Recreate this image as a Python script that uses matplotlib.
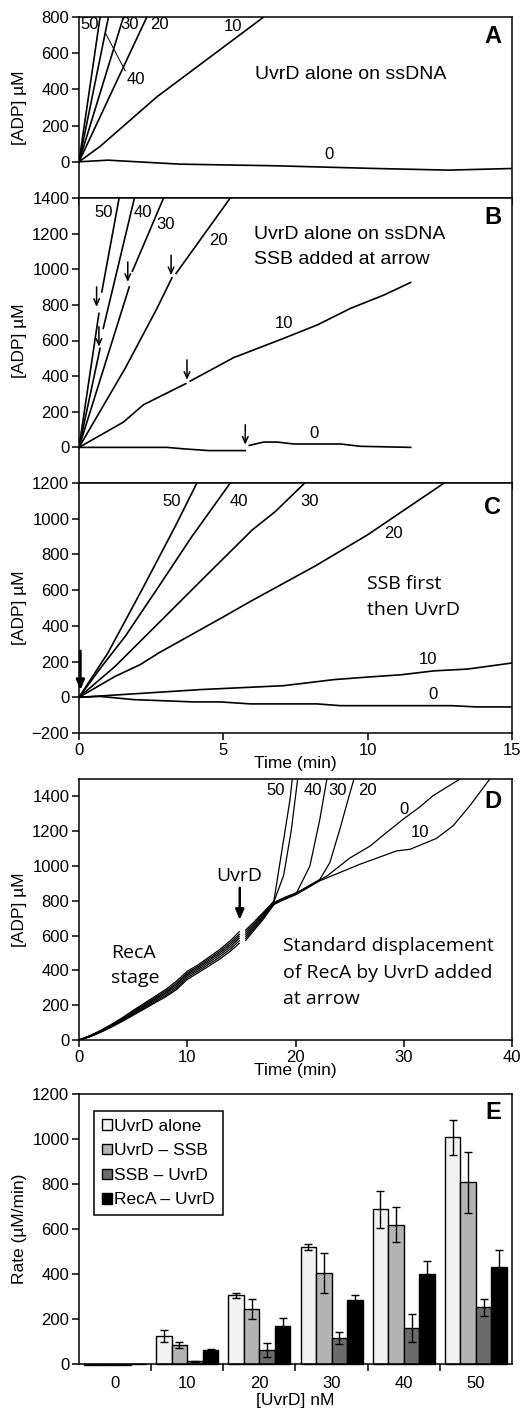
import numpy as np
import matplotlib
matplotlib.use('Agg')
import matplotlib.pyplot as plt

plt.rcParams['font.family'] = ['Liberation Sans', 'DejaVu Sans']
ANNO = ['Open Sans', 'DejaVu Sans']

# ---- panel A: UvrD alone on ssDNA (time min, ADP uM)
a_t = {50: [0, 0.73], 40: [0, 1.02], 30: [0, 1.54], 20: [0, 2.35],
       10: [0, 0.73, 2.7, 6.4], 0: [0, 1.0, 3.5, 6.8, 10.3, 12.8, 15]}
a_y = {50: [0, 800], 40: [0, 800], 30: [0, 800], 20: [0, 800],
       10: [0, 85, 359, 800], 0: [0, 9, -13, -22, -37, -46, -37]}

# ---- panel B: SSB added at arrow (pre / post segments)
b_pre_t = {50: [0, 0.69], 40: [0, 0.73], 30: [0, 1.74], 20: [0, 1.6, 2.7, 3.22],
           10: [0, 1.54, 2.23, 3.7], 0: [0, 3.05, 3.6, 4.5, 5.76]}
b_pre_y = {50: [0, 752], 40: [0, 556], 30: [0, 901], 20: [0, 444, 780, 952],
           10: [0, 142, 239, 358], 0: [0, 0, -8, -18, -18]}
b_post_t = {50: [0.79, 1.39], 40: [0.84, 1.92], 30: [1.85, 2.93], 20: [3.36, 5.24],
            10: [3.85, 5.36, 7.09, 8.25, 9.40, 10.56, 11.49],
            0: [5.9, 6.4, 6.86, 7.44, 9.06, 9.75, 11.49]}
b_post_y = {50: [873, 1400], 40: [668, 1400], 30: [989, 1400], 20: [976, 1400],
            10: [372, 504, 612, 687, 780, 855, 926],
            0: [11, 30, 30, 19, 19, 6, 0]}
b_arrow_t = [0.61, 0.69, 1.69, 3.19, 3.74, 5.76]
b_arrow_top = [901, 677, 1041, 1079, 491, 127]
b_arrow_tip = [789, 565, 929, 967, 379, 15]

# ---- panel C: SSB first then UvrD
c_t = {50: [0, 1.0, 2.18, 3.33, 4.09],
       40: [0, 0.79, 1.6, 2.76, 3.91, 5.24],
       30: [0, 1.25, 2.76, 4.49, 6.0, 6.8, 7.82],
       20: [0, 1.25, 2.12, 2.76, 5.03, 5.94, 8.19, 9.99, 12.65],
       10: [0, 1, 4.2, 7.09, 8.83, 9.99, 11.15, 12.3, 13.46, 15],
       0: [0, 0.73, 1.89, 3.97, 4.9, 5.94, 8.25, 9.06, 12.9, 13.8, 15]}
c_y = {50: [0, 248, 602, 956, 1202],
       40: [0, 173, 341, 620, 900, 1200],
       30: [0, 173, 416, 695, 937, 1040, 1200],
       20: [0, 117, 183, 248, 453, 537, 736, 909, 1200],
       10: [0, 10, 43, 65, 99, 113, 126, 148, 158, 192],
       0: [0, 5, -13, -26, -26, -37, -37, -47, -47, -54, -54]}

# ---- panel D: RecA stage, UvrD added at 15 min
d_stage_t = [0, 1, 2, 3, 4, 5, 6, 7, 8, 9, 10, 11, 12, 13, 14, 14.8]
d_stage_y = {50: [0, 25, 55, 90, 128, 170, 210, 250, 290, 338, 395, 432, 476, 520, 572, 622],
             40: [0, 24, 52, 86, 123, 164, 203, 242, 281, 327, 385, 423, 466, 510, 560, 608],
             30: [0, 22, 50, 83, 119, 158, 196, 235, 273, 318, 377, 415, 457, 500, 549, 596],
             20: [0, 21, 48, 80, 115, 153, 190, 228, 265, 308, 368, 406, 447, 489, 537, 584],
             10: [0, 19, 46, 77, 111, 147, 183, 220, 256, 298, 358, 396, 436, 477, 524, 570],
             0: [0, 18, 44, 74, 107, 142, 177, 213, 248, 289, 348, 386, 425, 465, 511, 556]}
d_post_t = {50: [15.4, 16, 17, 18, 19.5, 19.7],
            40: [15.4, 16, 17, 18, 18.9, 19.6, 20.2],
            30: [15.4, 16, 17, 18, 19, 20.1, 21.33, 22.25, 22.9],
            20: [15.4, 16, 17, 18, 20, 22.25, 23.17, 24.1, 24.87, 25.4],
            10: [15.4, 16, 17, 18, 20.1, 21.94, 22.25, 25.95, 29.35, 30.58, 33.0, 34.56, 36.1, 37.95],
            0: [15.4, 16, 17, 18, 20.1, 22.0, 22.9, 25.0, 26.9, 28.4, 29.95, 31.5, 32.7, 35.2]}
d_post_y = {50: [632, 668, 732, 798, 1385, 1500],
            40: [620, 658, 724, 794, 945, 1200, 1500],
            30: [608, 648, 716, 790, 820, 846, 1000, 1269, 1500],
            20: [596, 638, 708, 786, 840, 923, 1019, 1212, 1385, 1500],
            10: [584, 628, 700, 782, 837, 904, 915, 1010, 1087, 1096, 1158, 1231, 1346, 1500],
            0: [572, 618, 692, 778, 846, 912, 942, 1045, 1115, 1192, 1269, 1340, 1404, 1500]}

# ---- panel E: rates
e_conc = ['0', '10', '20', '30', '40', '50']
e_names = ['UvrD alone', 'UvrD \u2013 SSB', 'SSB \u2013 UvrD', 'RecA \u2013 UvrD']
e_vals = [[-5, 125, 305, 520, 688, 1007],
          [-5, 85, 245, 405, 620, 808],
          [-5, 12, 62, 115, 162, 253],
          [0, 63, 170, 285, 400, 430]]
e_errs = [[0, 28, 12, 13, 83, 76],
          [0, 12, 45, 90, 77, 136],
          [0, 3, 30, 28, 62, 38],
          [0, 5, 35, 20, 58, 75]]
e_colors = ['#f2f2f2', '#b3b3b3', '#6b6b6b', '#000000']

TICK = 12
LAB = 12.5
NUM = 12


def rect(top, bottom):
    return [79 / 525, 1 - bottom / 1416, 433 / 525, (bottom - top) / 1416]


def style(ax, ylabel='[ADP] \u00b5M'):
    for s in ax.spines.values():
        s.set_linewidth(1.1)
    ax.tick_params(direction='out', length=5, width=1.1, labelsize=TICK, pad=2)
    ax.set_ylabel(ylabel, fontsize=LAB)
    ax.yaxis.set_label_coords(-0.12, 0.5)


def letter(ax, s, y):
    ax.text(0.975, y, s, transform=ax.transAxes, fontsize=17, fontweight='bold',
            ha='right', va='center')


fig = plt.figure(figsize=(5.25, 14.16), dpi=100)
lw = 1.2

# A
ax = fig.add_axes(rect(17, 198))
for k in a_t:
    ax.plot(a_t[k], a_y[k], color='k', lw=lw)
ax.set_xlim(0, 15)
ax.set_ylim(-200, 800)
ax.set_yticks(range(0, 801, 200))
ax.set_xticks([0, 5, 10, 15])
ax.set_xticklabels([])
style(ax)
ax.text(0.38, 757, '50', fontsize=NUM, ha='center', va='center')
ax.text(1.75, 757, '30', fontsize=NUM, ha='center', va='center')
ax.text(2.8, 757, '20', fontsize=NUM, ha='center', va='center')
ax.text(5.35, 745, '10', fontsize=NUM, ha='center', va='center')
ax.text(1.98, 453, '40', fontsize=NUM, ha='center', va='center')
ax.plot([1.6, 0.92], [503, 710], color='k', lw=0.7)
ax.text(8.65, 40, '0', fontsize=NUM, ha='center', va='center')
ax.text(9.4, 480, 'UvrD alone on ssDNA', fontsize=14, ha='center', va='center')
letter(ax, 'A', 0.89)

# B
ax = fig.add_axes(rect(198, 483))
for k in b_pre_t:
    ax.plot(b_pre_t[k], b_pre_y[k], color='k', lw=lw)
    ax.plot(b_post_t[k], b_post_y[k], color='k', lw=lw)
for t, y0, y1 in zip(b_arrow_t, b_arrow_top, b_arrow_tip):
    ax.annotate('', xy=(t, y1), xytext=(t, y0),
                arrowprops=dict(arrowstyle='->,head_length=0.45,head_width=0.2',
                                color='k', lw=1.1, shrinkA=0, shrinkB=0))
ax.set_xlim(0, 15)
ax.set_ylim(-200, 1400)
ax.set_yticks(range(0, 1401, 200))
ax.set_xticks([0, 5, 10, 15])
ax.set_xticklabels([])
style(ax)
for lab, t, y in [('50', 0.84, 1321), ('40', 2.23, 1321), ('30', 2.99, 1252),
                  ('20', 4.84, 1163), ('10', 7.09, 696), ('0', 8.14, 77)]:
    ax.text(t, y, lab, fontsize=NUM, ha='center', va='center')
ax.text(6.05, 1193, 'UvrD alone on ssDNA', fontsize=14, ha='left', va='center')
ax.text(6.05, 1053, 'SSB added at arrow', fontsize=14, ha='left', va='center')
letter(ax, 'B', 0.93)

# C
ax = fig.add_axes(rect(483, 733))
for k in c_t:
    ax.plot(c_t[k], c_y[k], color='k', lw=lw)
ax.annotate('', xy=(0.05, 40), xytext=(0.05, 260),
            arrowprops=dict(arrowstyle='-|>,head_length=0.6,head_width=0.25',
                            color='k', lw=1.8, shrinkA=0, shrinkB=0))
ax.set_xlim(0, 15)
ax.set_ylim(-200, 1200)
ax.set_yticks(range(-200, 1201, 200))
ax.set_xticks([0, 5, 10, 15])
style(ax)
ax.set_xlabel('Time (min)', fontsize=LAB, labelpad=-1)
for lab, t, y in [('50', 3.22, 1096), ('40', 5.53, 1096), ('30', 7.97, 1096),
                  ('20', 10.9, 915), ('10', 12.1, 214), ('0', 12.27, 15)]:
    ax.text(t, y, lab, fontsize=NUM, ha='center', va='center')
ax.text(9.97, 636, 'SSB first', fontsize=14, ha='left', va='center', family=ANNO)
ax.text(9.97, 490, 'then UvrD', fontsize=14, ha='left', va='center', family=ANNO)
letter(ax, 'C', 0.9)

# D
ax = fig.add_axes(rect(779, 1040))
for k in d_stage_y:
    ax.plot(d_stage_t, d_stage_y[k], color='k', lw=0.9)
    ax.plot(d_post_t[k], d_post_y[k], color='k', lw=0.9)
ax.annotate('', xy=(14.85, 690), xytext=(14.85, 875),
            arrowprops=dict(arrowstyle='-|>,head_length=0.6,head_width=0.25',
                            color='k', lw=1.8, shrinkA=0, shrinkB=0))
ax.set_xlim(0, 40)
ax.set_ylim(0, 1500)
ax.set_yticks(range(0, 1401, 200))
ax.set_xticks(range(0, 41, 10))
style(ax)
ax.set_xlabel('Time (min)', fontsize=LAB, labelpad=-1)
for lab, t, y in [('50', 18.2, 1433), ('40', 21.6, 1433), ('30', 23.9, 1433),
                  ('20', 26.6, 1433), ('0', 30.0, 1327), ('10', 31.5, 1192)]:
    ax.text(t, y, lab, fontsize=NUM, ha='center', va='center')
ax.text(14.8, 942, 'UvrD', fontsize=14, ha='center', va='center', family=ANNO)
ax.text(2.95, 500, 'RecA', fontsize=14, ha='left', va='center', family=ANNO)
ax.text(2.95, 358, 'stage', fontsize=14, ha='left', va='center', family=ANNO)
for yy, line in zip([538, 386, 237],
                    ['Standard displacement', 'of RecA by UvrD added', 'at arrow']):
    ax.text(18.8, yy, line, fontsize=14, ha='left', va='center', family=ANNO)
letter(ax, 'D', 0.915)

# E
ax = fig.add_axes(rect(1094, 1364))
x = np.arange(len(e_conc))
w = 0.215
for i in range(4):
    ax.bar(x + (i - 1.5) * w, e_vals[i], w, yerr=e_errs[i], color=e_colors[i],
           edgecolor='k', linewidth=1.0, label=e_names[i], clip_on=False,
           error_kw=dict(ecolor='k', elinewidth=1.0, capsize=3, capthick=1.0))
ax.set_xlim(-0.5, 5.5)
ax.set_ylim(0, 1200)
ax.set_yticks(range(0, 1201, 200))
ax.set_xticks(np.arange(0.5, 5.5, 1))
ax.set_xticklabels([])
ax.set_xticks(x, minor=True)
ax.set_xticklabels(e_conc, minor=True)
style(ax, 'Rate (\u00b5M/min)')
ax.tick_params(axis='x', which='minor', length=0, pad=9, labelsize=TICK)
ax.set_xlabel('[UvrD] nM', fontsize=LAB, labelpad=1)
leg = ax.legend(loc='upper left', bbox_to_anchor=(0.035, 0.937), borderaxespad=0,
                fontsize=12.5, fancybox=False, edgecolor='k', framealpha=1,
                handlelength=0.55, handleheight=0.55, handletextpad=0.15,
                borderpad=0.45, labelspacing=0.55)
leg.get_frame().set_linewidth(1.1)
letter(ax, 'E', 0.93)

fig.savefig('out.png', dpi=100)
